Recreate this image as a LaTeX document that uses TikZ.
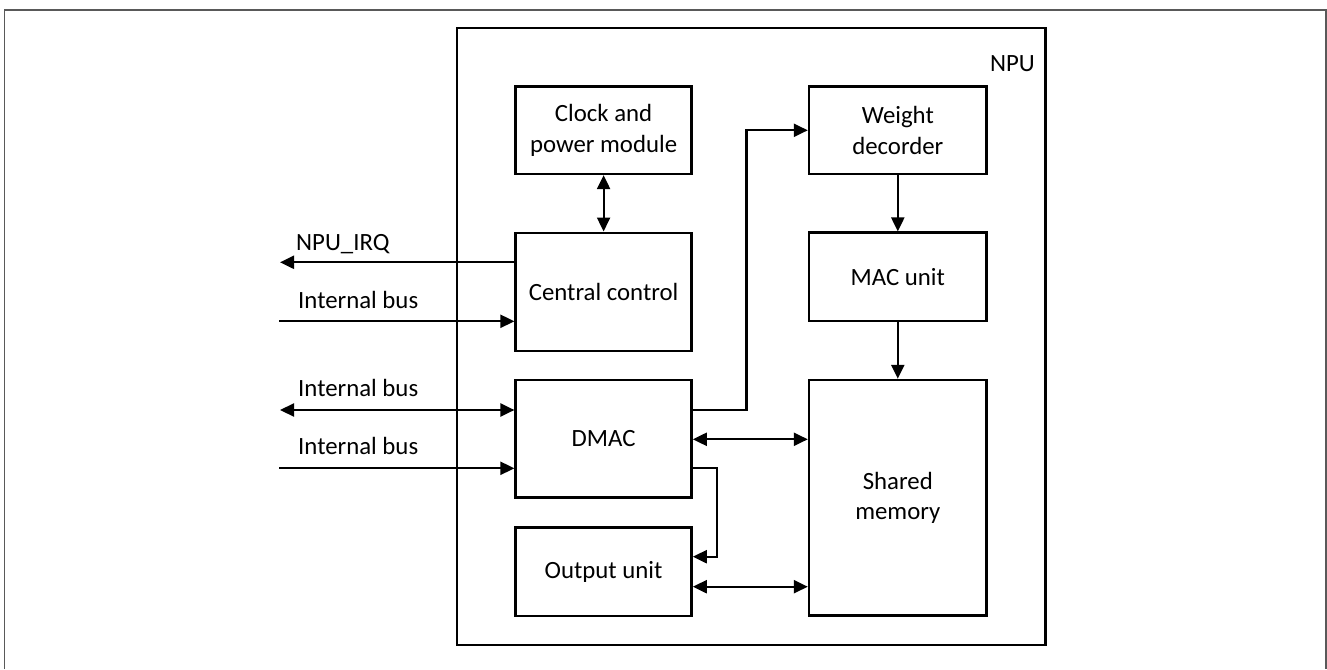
\documentclass[tikz,border=0pt]{standalone}
\usepackage{fontspec}
\setmainfont{Carlito}
\usetikzlibrary{arrows.meta,calc}
\begin{document}
\begin{tikzpicture}[x=1pt,y=-1pt,
  blk/.style={draw=black,line width=2.4pt,rectangle,minimum width=176pt,align=center,inner sep=0pt,font=\fontsize{24.8}{30.5}\selectfont},
  lbl/.style={inner sep=0pt,font=\fontsize{24.8}{30.5}\selectfont},
  conn/.style={line width=2.2pt,-{Triangle[length=14pt,width=13pt]}},
  bconn/.style={line width=2.2pt,{Triangle[length=14pt,width=13pt]}-{Triangle[length=14pt,width=13pt]}},
  frame/.style={draw=black!65,line width=1.6pt}]
\useasboundingbox (0,0) rectangle (1327,669);
\draw[frame] (4.5,669) -- (4.5,10) -- (1326,10) -- (1326,669);
% NPU container
\node[draw=black,line width=2.4pt,minimum width=588.6pt,minimum height=617pt,inner sep=0pt] (npu) at (751,336.5) {};
\node[lbl,anchor=base east] (npulbl) at (1035,71.7) {NPU};
% blocks
\node[blk,minimum height=87.3pt] (clock) at (603.6,130.3) {Clock and\\power module};
\node[blk,minimum height=118pt] (central) at (603.6,291.7) {Central control};
\node[blk,minimum height=117.3pt] (dmac) at (603.6,438.7) {DMAC};
\node[blk,minimum height=88.4pt] (output) at (603.6,571.5) {Output unit};
\node[blk,minimum width=177.6pt,minimum height=87.3pt] (weight) at (897.8,130.3) {Weight\\decorder};
\node[blk,minimum width=177.6pt,minimum height=88.3pt] (mac) at (897.8,276.8) {MAC unit};
\node[blk,minimum width=177.6pt,minimum height=235.7pt] (shared) at (897.8,497.8) {Shared\\memory};
% external labels
\node[lbl,anchor=base west] (irqlbl) at (296,250) {NPU\_IRQ};
\node[lbl,anchor=base west] (ib1lbl) at (298,308.3) {Internal bus};
\node[lbl,anchor=base west] (ib2lbl) at (298,396) {Internal bus};
\node[lbl,anchor=base west] (ib3lbl) at (298,454.3) {Internal bus};
% free ends
\coordinate (irq) at (280,262.3);
\coordinate (ib1) at (279,321.3);
\coordinate (ib2) at (280,410);
\coordinate (ib3) at (279,468.3);
\coordinate (dw) at (746.4,410);
\coordinate (dwtop) at (746.4,130.3);
\coordinate (dout) at (717.3,468.3);
\coordinate (doutb) at (717.3,556.7);
\coordinate (ds) at (0,439.3);
\coordinate (os) at (0,586.7);
% connectors
\draw[bconn] (clock.south) -- (central.north);
\draw[conn] (central.west |- irq) -- (irq);
\draw[conn] (ib1) -- (ib1 -| central.west);
\draw[bconn] (ib2) -- (ib2 -| dmac.west);
\draw[conn] (ib3) -- (ib3 -| dmac.west);
\draw[conn] (dw -| dmac.east) -- (dw) -- (dwtop) -- (weight.west);
\draw[bconn] (ds -| dmac.east) -- (ds -| shared.west);
\draw[conn] (dout -| dmac.east) -- (dout) -- (doutb) -- (doutb -| output.east);
\draw[bconn] (os -| output.east) -- (os -| shared.west);
\draw[conn] (weight.south) -- (mac.north);
\draw[conn] (mac.south) -- (shared.north);
\end{tikzpicture}
\end{document}
